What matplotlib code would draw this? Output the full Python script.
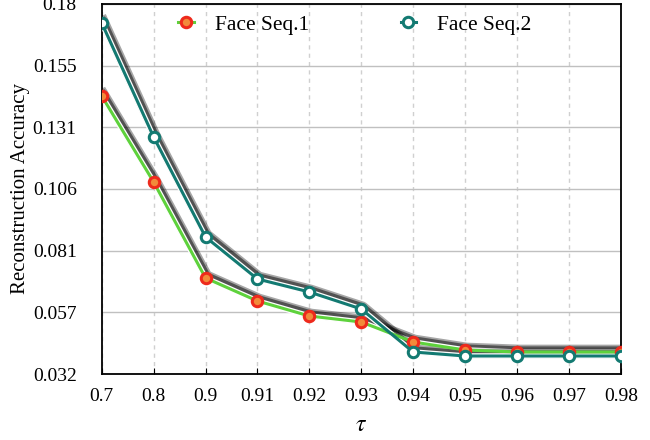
import numpy as np
import matplotlib
matplotlib.use("Agg")
import matplotlib.pyplot as plt
import matplotlib.patheffects as pe

plt.rcParams['font.family'] = ['Liberation Serif', 'DejaVu Serif']
plt.rcParams['mathtext.fontset'] = 'stix'

# values
tau_labels = ['0.7', '0.8', '0.9', '0.91', '0.92', '0.93', '0.94', '0.95', '0.96', '0.97', '0.98']
seq1 = [0.1432, 0.1088, 0.0704, 0.0612, 0.0552, 0.0528, 0.0448, 0.0416, 0.0408, 0.0408, 0.0408]
seq2 = [0.1724, 0.1268, 0.0868, 0.0700, 0.0648, 0.0580, 0.0408, 0.0392, 0.0392, 0.0392, 0.0392]
ytick_vals = np.linspace(0.032, 0.18, 7)
ytick_labels = ['0.032', '0.057', '0.081', '0.106', '0.131', '0.155', '0.18']

x = np.arange(len(tau_labels))

fig = plt.figure(figsize=(6.5, 4.4), dpi=100)
ax = fig.add_axes([0.1565, 0.15, 0.7985, 0.841])

# blurred-ish shadow + white outline drawn under each line
shadow = [pe.SimpleLineShadow(offset=(1.2, 1.8), shadow_color='k', alpha=0.35, linewidth=7),
          pe.SimpleLineShadow(offset=(1.2, 1.8), shadow_color='k', alpha=0.5, linewidth=4.5),
          pe.Stroke(linewidth=4, foreground='white')]

for ys, z in [(seq1, 2), (seq2, 3)]:
    ax.plot(x, ys, color='white', lw=2.2, path_effects=shadow, zorder=z)

ax.plot(x, seq1, color='#5ed23c', lw=2.2, marker='o', ms=7.5, mfc='#f28a3a',
        mec='#ee2a1c', mew=2.2, label='Face Seq.1', zorder=4)
ax.plot(x, seq2, color='#137a72', lw=2.2, marker='o', ms=7.5, mfc='white',
        mec='#137a72', mew=2.2, label='Face Seq.2', zorder=5)

ax.set_xlim(0, len(tau_labels) - 1)
ax.set_ylim(0.032, 0.18)
ax.set_xticks(x)
ax.set_xticklabels(tau_labels)
ax.set_yticks(ytick_vals)
ax.set_yticklabels(ytick_labels)
ax.tick_params(axis='x', direction='in', length=4, labelsize=14, pad=10)
ax.tick_params(axis='y', length=0, labelsize=14, pad=18)

ax.grid(axis='y', color='#c0c0c0', lw=1, ls='-')
ax.grid(axis='x', color='#d0d0d0', lw=1, ls=(0, (3, 3)))
ax.set_axisbelow(True)
for s in ax.spines.values():
    s.set_linewidth(1.3)

ax.set_xlabel(r'$\tau$', fontsize=17, labelpad=7)
ax.set_ylabel('Reconstruction Accuracy', fontsize=15, labelpad=2)

ax.legend(loc='upper center', ncol=2, frameon=False, fontsize=15.5,
          handlelength=0.7, handletextpad=1.0, columnspacing=4.25,
          bbox_to_anchor=(0.488, 1.0), borderaxespad=0.1)

fig.savefig('out.png', dpi=100)
